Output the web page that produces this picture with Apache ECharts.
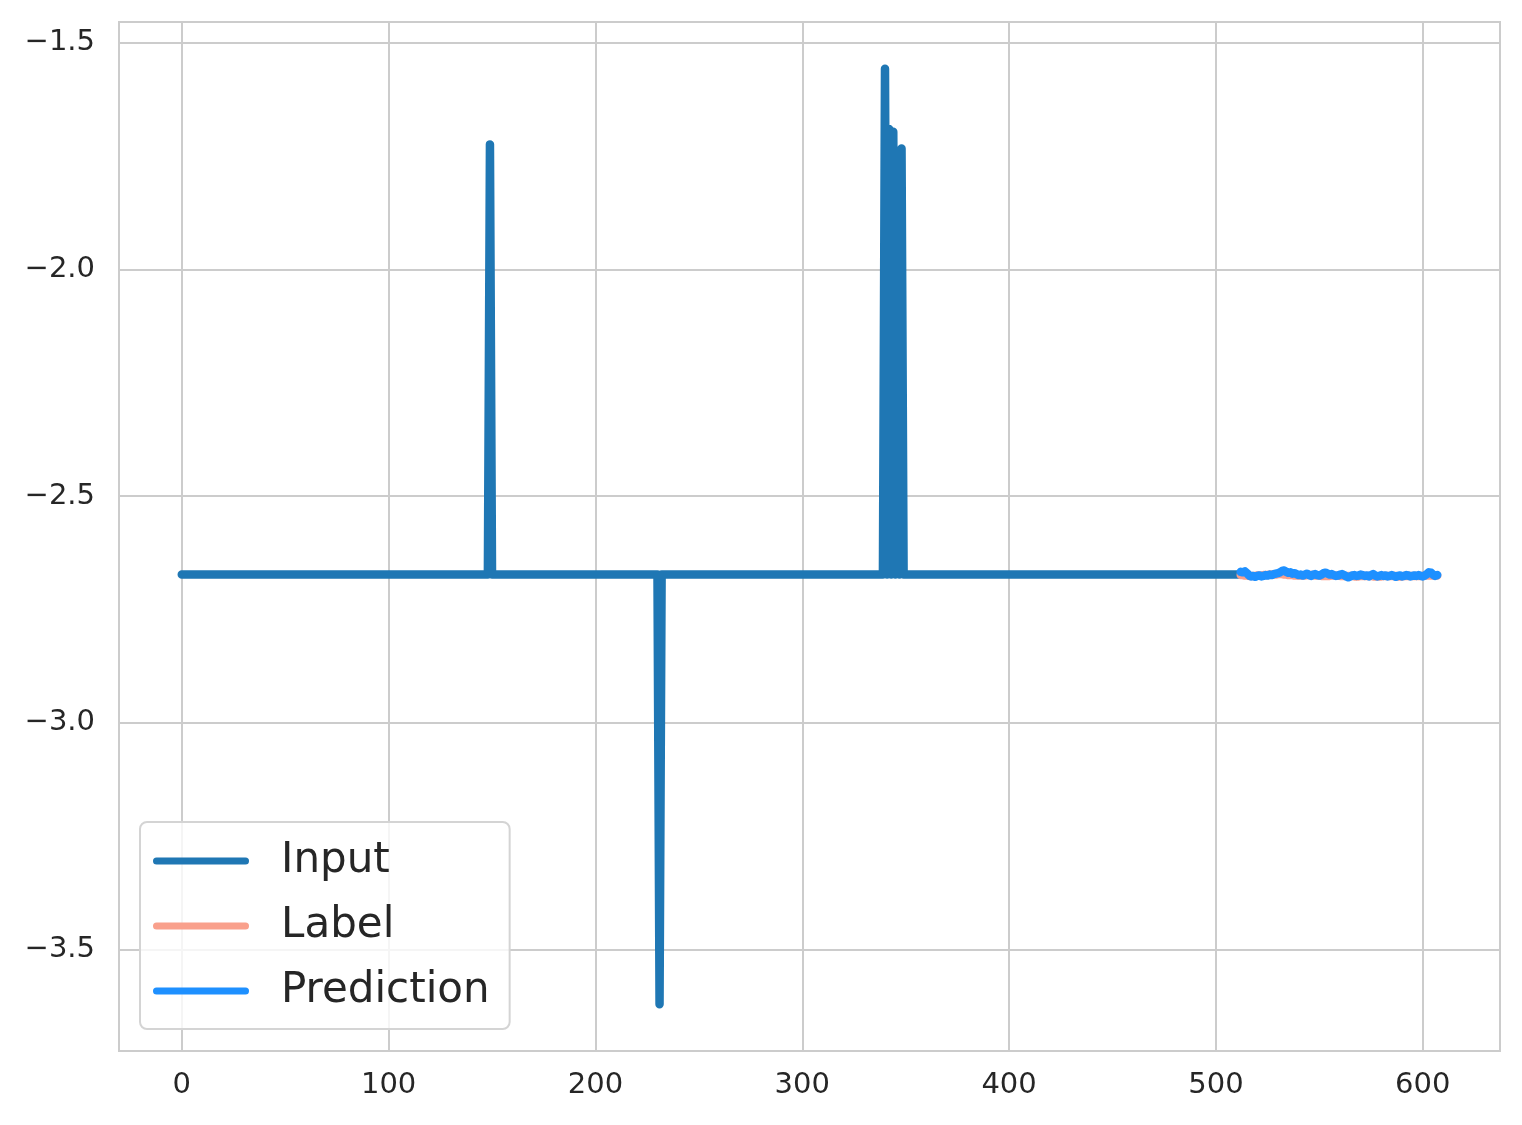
<!DOCTYPE html>
<html>
<head>
<meta charset="utf-8">
<script src="https://cdn.jsdelivr.net/npm/echarts@6/dist/echarts.min.js"></script>
<style>
html,body{margin:0;padding:0;background:#fff;}
#chart{width:1522px;height:1125px;}
</style>
</head>
<body>
<div id="chart"></div>
<script>
// ---- data ----
const inputLength = 512;            // indices 0..511
const inputBaseline = -2.673;       // flat level of the input series
const inputSpikes = [               // [index, value] points that leave the baseline
  [149, -1.724],
  [231, -3.621],
  [340, -1.557],
  [342, -1.690],
  [344, -1.696],
  [346, -1.760],
  [348, -1.733]
];
const forecastStart = 512;
const labelValues = [
  -2.674,-2.674,-2.675,-2.675,-2.676,-2.676,-2.676,-2.676,-2.675,-2.675,-2.675,-2.674,
  -2.674,-2.674,-2.673,-2.673,-2.673,-2.673,-2.672,-2.672,-2.672,-2.673,-2.673,-2.674,
  -2.674,-2.674,-2.675,-2.675,-2.675,-2.675,-2.675,-2.675,-2.674,-2.674,-2.674,-2.674,
  -2.675,-2.675,-2.675,-2.676,-2.676,-2.676,-2.676,-2.676,-2.675,-2.675,-2.675,-2.675,
  -2.676,-2.676,-2.676,-2.676,-2.676,-2.676,-2.676,-2.677,-2.677,-2.677,-2.676,-2.676,
  -2.676,-2.676,-2.676,-2.676,-2.677,-2.677,-2.677,-2.677,-2.677,-2.676,-2.676,-2.676,
  -2.676,-2.676,-2.676,-2.676,-2.677,-2.677,-2.677,-2.676,-2.676,-2.676,-2.676,-2.676,
  -2.676,-2.676,-2.676,-2.676,-2.676,-2.675,-2.675,-2.675,-2.675,-2.675,-2.675,-2.675
];
const predictionValues = [
  -2.667,-2.668,-2.666,-2.670,-2.675,-2.677,-2.676,-2.678,-2.676,-2.675,-2.677,-2.676,
  -2.674,-2.675,-2.673,-2.674,-2.672,-2.671,-2.670,-2.668,-2.665,-2.664,-2.667,-2.669,
  -2.668,-2.671,-2.670,-2.672,-2.674,-2.673,-2.675,-2.673,-2.671,-2.674,-2.676,-2.673,
  -2.672,-2.674,-2.675,-2.673,-2.670,-2.669,-2.671,-2.673,-2.672,-2.674,-2.676,-2.675,
  -2.673,-2.672,-2.674,-2.677,-2.679,-2.677,-2.675,-2.674,-2.676,-2.675,-2.673,-2.674,
  -2.676,-2.675,-2.677,-2.674,-2.672,-2.675,-2.677,-2.676,-2.674,-2.676,-2.675,-2.677,
  -2.676,-2.674,-2.676,-2.678,-2.676,-2.675,-2.677,-2.676,-2.674,-2.675,-2.677,-2.676,
  -2.675,-2.676,-2.674,-2.676,-2.677,-2.675,-2.672,-2.668,-2.669,-2.673,-2.676,-2.674
];
const xTicks = [0, 100, 200, 300, 400, 500, 600];
const yTicks = [-3.5, -3.0, -2.5, -2.0, -1.5];
const seriesNames = ['Input', 'Label', 'Prediction'];

// ---- build series data ----
const spikeMap = new Map(inputSpikes);
const inputData = [];
for (let i = 0; i < inputLength; i++) {
  inputData.push([i, spikeMap.has(i) ? spikeMap.get(i) : inputBaseline]);
}
const labelData = labelValues.map((v, k) => [forecastStart + k, v]);
const predData = predictionValues.map((v, k) => [forecastStart + k, v]);

const FONT = 'DejaVu Sans';
const TXT = '#262626';
const GRID = '#cccccc';
const LW = 8.5;
const fmtMinus = v => (v < 0 ? '\u2212' : '') + Math.abs(v).toFixed(1);

const chart = echarts.init(document.getElementById('chart'), null, {renderer: 'canvas'});
const legendIcon = 'path://M3.5,0 H92.5 A3.5,3.5 0 0 1 92.5,7 H3.5 A3.5,3.5 0 0 1 3.5,0 Z';
chart.setOption({
  animation: false,
  backgroundColor: '#ffffff',
  grid: {
    left: 119, top: 22, right: 22, bottom: 74,
    show: true, borderColor: GRID, borderWidth: 2, backgroundColor: 'transparent'
  },
  xAxis: {
    type: 'value', min: -30.35, max: 637.35,
    axisLine: {show: false},
    axisTick: {show: false, customValues: xTicks},
    axisLabel: {customValues: xTicks, color: TXT, fontFamily: FONT, fontSize: 29, margin: 20,
      formatter: v => String(v)},
    splitLine: {show: true, lineStyle: {color: GRID, width: 2}}
  },
  yAxis: {
    type: 'value', min: -3.724, max: -1.454,
    axisLine: {show: false},
    axisTick: {show: false, customValues: yTicks},
    axisLabel: {customValues: yTicks, color: TXT, fontFamily: FONT, fontSize: 29, margin: 24,
      formatter: fmtMinus},
    splitLine: {show: true, lineStyle: {color: GRID, width: 2}}
  },
  legend: {
    orient: 'vertical', left: 140, top: 822,
    data: seriesNames, icon: legendIcon,
    itemWidth: 96, itemHeight: 7, itemGap: 15,
    padding: [14, 20, 13, 13],
    borderColor: '#d4d4d4', borderWidth: 2, borderRadius: 7,
    backgroundColor: 'rgba(255,255,255,0.8)',
    textStyle: {fontFamily: FONT, fontSize: 42, color: TXT, lineHeight: 50, padding: [0, 0, 0, 27]},
    selectedMode: false
  },
  series: [
    {name: 'Input', type: 'line', data: inputData, color: '#1f77b4', showSymbol: false, symbol: 'none',
      lineStyle: {width: LW, color: '#1f77b4', cap: 'round', join: 'round'}, z: 2},
    {name: 'Label', type: 'line', data: labelData, color: '#f9a08c', showSymbol: false, symbol: 'none',
      lineStyle: {width: LW, color: '#f9a08c', cap: 'round', join: 'round'}, z: 3},
    {name: 'Prediction', type: 'line', data: predData, color: '#1e90ff', showSymbol: false, symbol: 'none',
      lineStyle: {width: LW, color: '#1e90ff', cap: 'round', join: 'round'}, z: 4}
  ]
});
</script>
</body>
</html>
